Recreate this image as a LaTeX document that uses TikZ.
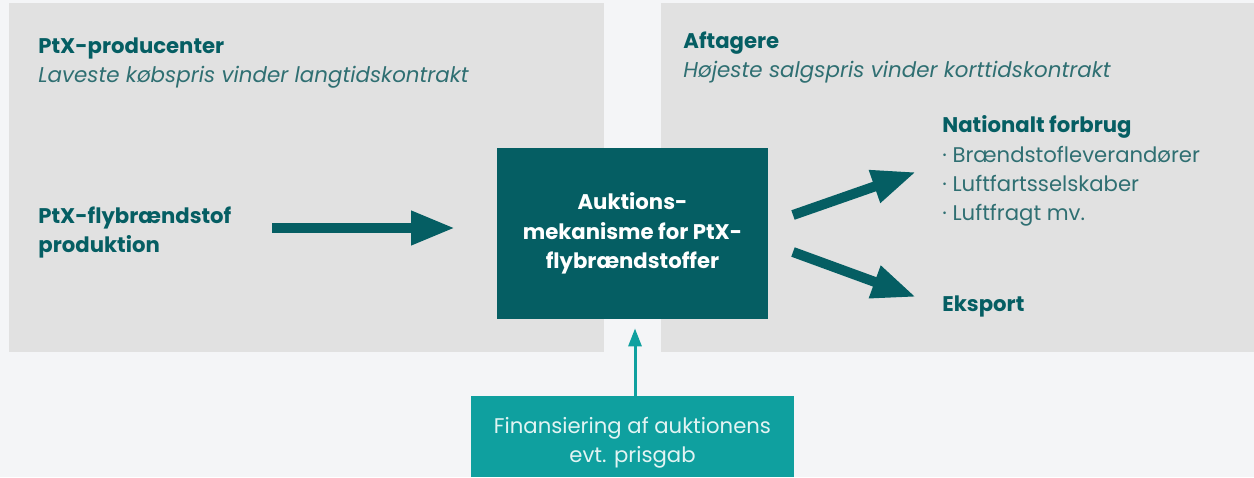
\documentclass[tikz,border=0pt]{standalone}
\usepackage{fontspec}
\setmainfont{Poppins}
\usepackage{xcolor}
\usetikzlibrary{arrows.meta,positioning}

\definecolor{bgcol}{HTML}{F4F5F7}
\definecolor{panelcol}{HTML}{E1E1E1}
\definecolor{darkteal}{HTML}{055E63}
\definecolor{subteal}{HTML}{2F6F72}
\definecolor{lightteal}{HTML}{0FA09F}
\definecolor{paletext}{HTML}{E2F4F3}

\tikzset{
    headtxt/.style={text=darkteal, font=\bfseries\fontsize{10.6}{14.5}\selectfont,
        anchor=base west, inner sep=0pt, align=left},
    subtxt/.style={text=subteal, font=\itshape\fontsize{10.7}{14}\selectfont,
        anchor=base west, inner sep=0pt},
    bullettxt/.style={text=subteal, font=\fontsize{10.6}{14.5}\selectfont,
        anchor=base west, inner sep=0pt, align=left},
    auctionbox/.style={fill=darkteal, text=white, minimum width=135.5pt,
        minimum height=85.5pt, inner sep=0pt, align=center,
        font=\bfseries\fontsize{10.6}{14.75}\selectfont},
    fundbox/.style={fill=lightteal, minimum width=161.5pt, minimum height=40.5pt,
        inner sep=0pt},
    fundtxt/.style={text=paletext, font=\fontsize{10.6}{14.5}\selectfont,
        align=center, inner sep=0pt, anchor=base},
    bigarrow/.style={draw=darkteal, line width=5pt,
        -{Triangle[length=22pt, width=16pt]}},
    thinarrow/.style={draw=lightteal, line width=1.5pt,
        -{Triangle[length=9pt, width=6.5pt]}},
}

\begin{document}
\begin{tikzpicture}[x=0.5pt, y=-0.5pt]
    \useasboundingbox (0,0) rectangle (1254,477);
    \fill[bgcol] (0,0) rectangle (1254,477);

    % panels
    \fill[panelcol] (9,3) rectangle (604,352);
    \fill[panelcol] (661,3) rectangle (1254,352);

    % producer side (multi-line nodes: base = last line)
    \node[headtxt] (prodhead) at (38,53) {PtX-producenter};
    \node[subtxt] (prodsub) at (38,82) {Laveste købspris vinder langtidskontrakt};
    \node[headtxt] (prodfuel) at (38,252) {PtX-flybrændstof\\produktion};

    % buyer side
    \node[headtxt] (buyhead) at (683,48) {Aftagere};
    \node[subtxt] (buysub) at (683,77) {Højeste salgspris vinder korttidskontrakt};
    \node[headtxt] (national) at (942,132) {Nationalt forbrug};
    \node[bullettxt] (natlist) at (942,220)
        {· Brændstofleverandører\\· Luftfartsselskaber\\· Luftfragt mv.};
    \node[headtxt] (export) at (942,311) {Eksport};

    % auction
    \node[auctionbox] (auction) at (632.5,233.5)
        {Auktions-\\mekanisme for PtX-\\flybrændstoffer};

    % funding
    \node[fundbox] (fund) at (632.5,436.5) {};
    \node[fundtxt] (fundtext) at (632.5,462)
        {Finansiering af auktionens\\evt. prisgab};

    % arrows
    \coordinate (prodout) at (272,228);
    \coordinate (auctin) at (455,228);
    \coordinate (natout) at (793,215);
    \coordinate (natin) at (916,172);
    \coordinate (expout) at (793,252);
    \coordinate (expin) at (916,297);

    \draw[bigarrow] (prodout) -- (auctin);
    \draw[bigarrow] (natout) -- (natin);
    \draw[bigarrow] (expout) -- (expin);
    \draw[thinarrow] (fund.north -| 635,0) -- ([yshift=-4.5pt]auction.south -| 635,0);
\end{tikzpicture}
\end{document}
